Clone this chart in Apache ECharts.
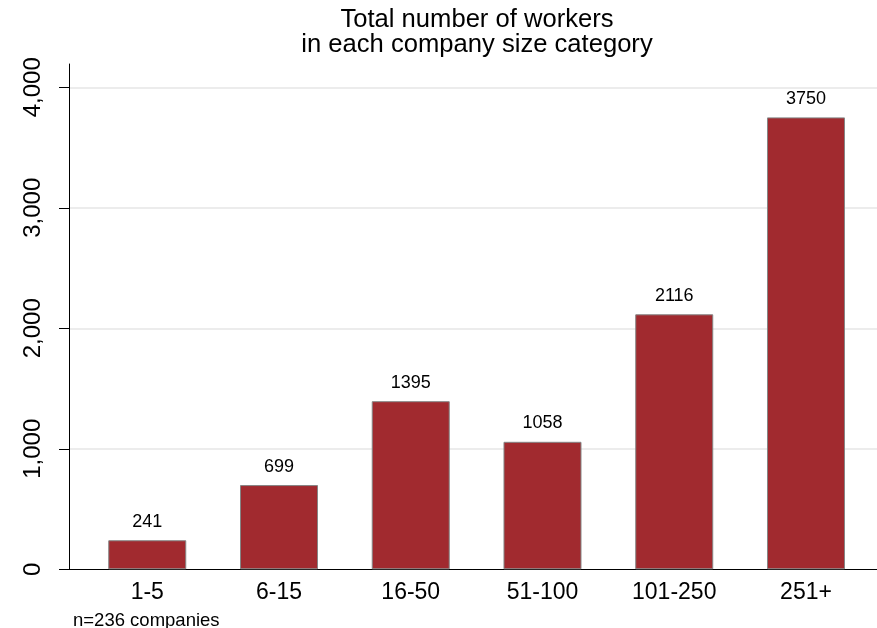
<!DOCTYPE html>
<html>
<head>
<meta charset="utf-8">
<script src="https://cdn.jsdelivr.net/npm/echarts@6/dist/echarts.min.js"></script>
<style>
  html, body { margin: 0; padding: 0; background: #ffffff; }
  #chart { width: 877px; height: 628px; }
</style>
</head>
<body>
<div id="chart"></div>
<script>
// Company size categories and the total number of workers in each
const categories = ['1-5', '6-15', '16-50', '51-100', '101-250', '251+'];
const workers = [241, 699, 1395, 1058, 2116, 3750];
const yTicks = [0, 1000, 2000, 3000, 4000];
const titleLines = ['Total number of workers', 'in each company size category'];
const note = 'n=236 companies';

const FONT = '"Liberation Sans", Arial, Helvetica, sans-serif';
const catIndex = categories.map((c, i) => i);

const chart = echarts.init(document.getElementById('chart'), null, { renderer: 'canvas' });

chart.setOption({
  backgroundColor: '#ffffff',
  animation: false,
  title: [
    {
      text: titleLines.join('\n'),
      left: 477,
      top: 7,
      padding: 0,
      textAlign: 'center',
      textStyle: {
        fontFamily: FONT,
        fontSize: 25.6,
        fontWeight: 'normal',
        color: '#000000',
        lineHeight: 25
      }
    },
    {
      text: note,
      left: 73,
      top: 611.5,
      padding: 0,
      textStyle: {
        fontFamily: FONT,
        fontSize: 18.5,
        fontWeight: 'normal',
        color: '#000000'
      }
    }
  ],
  grid: {
    left: 69,
    right: 0,
    top: 64,
    bottom: 58.7,
    containLabel: false
  },
  xAxis: {
    type: 'value',
    min: -0.594,
    max: 5.539,
    interval: 1,
    axisLine: { show: true, onZero: false, lineStyle: { color: '#000000', width: 1 } },
    axisTick: { show: false },
    splitLine: { show: false },
    axisLabel: {
      customValues: catIndex,
      margin: 11.5,
      fontFamily: FONT,
      fontSize: 23,
      color: '#000000',
      formatter: v => categories[Math.round(v)] ?? ''
    }
  },
  yAxis: {
    type: 'value',
    min: 0,
    max: 4193,
    interval: 1000,
    axisLine: { show: true, onZero: false, lineStyle: { color: '#000000', width: 1 } },
    axisTick: {
      show: true,
      customValues: yTicks,
      length: 10,
      lineStyle: { color: '#000000', width: 1 }
    },
    axisLabel: {
      customValues: yTicks,
      rotate: 90,
      margin: 24,
      fontFamily: FONT,
      fontSize: 24,
      color: '#000000',
      formatter: v => v.toLocaleString('en-US')
    },
    splitLine: {
      show: true,
      showMinLine: false,
      showMaxLine: true,
      lineStyle: { color: '#e6e6e6', width: 1.5 }
    }
  },
  series: [
    {
      type: 'bar',
      data: categories.map((c, i) => [i, workers[i]]),
      barWidth: 78,
      itemStyle: {
        color: '#a12a2f',
        borderColor: '#858585',
        borderWidth: 1
      },
      label: {
        show: true,
        position: 'top',
        distance: 9.4,
        fontFamily: FONT,
        fontSize: 18,
        color: '#000000',
        formatter: p => String(p.value[1])
      }
    }
  ]
});
</script>
</body>
</html>
